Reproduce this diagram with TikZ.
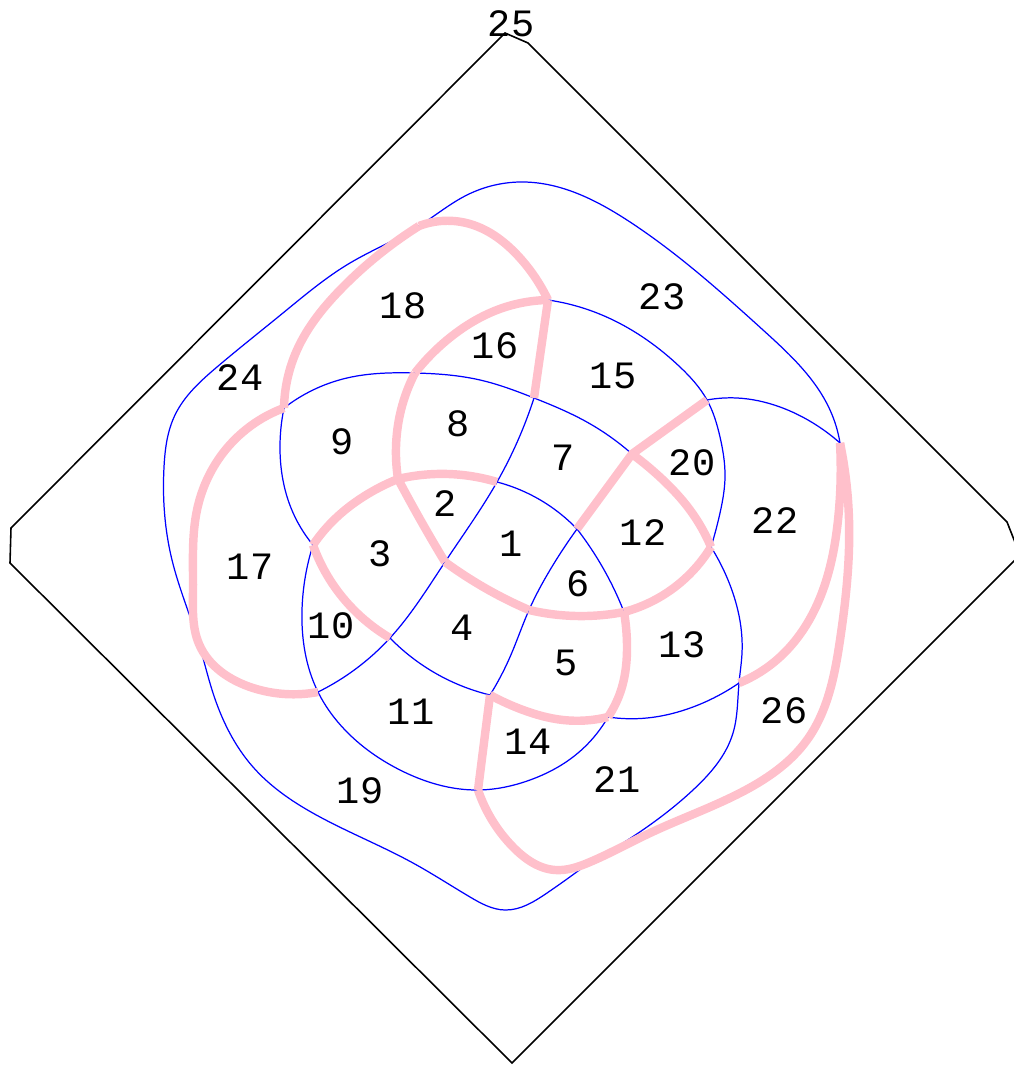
\documentclass[tikz,border=0pt]{standalone}
\usepackage{fontspec}
\setmonofont{Liberation Mono}
\usetikzlibrary{hobby}
\definecolor{rosaclaro}{RGB}{255,192,203}
\begin{document}
\begin{tikzpicture}[
      x=0.01cm, y=-0.01cm, use Hobby shortcut,
      every node/.style={font=\ttfamily\fontsize{11}{12}\selectfont},
      moldura/.style={draw=black, line width=0.45pt},
      curva/.style={draw=blue, line width=0.35pt},
      trilha/.style={draw=rosaclaro, line width=2.4pt}
    ]
    \useasboundingbox (0,0) rectangle (1013,1065);

    % Moldura em losango
    \draw[moldura] (11,528) -- (505,33) -- (528,43) -- (1007,522) -- (1020,555)
      -- (512,1063) -- (10,563) -- cycle;

    % Vértices (cruzamentos das curvas)
    \coordinate (A) at (497,482);
    \coordinate (B) at (577,529);
    \coordinate (C) at (529,610);
    \coordinate (D) at (445,562);
    \coordinate (E) at (398,479);
    \coordinate (F) at (313,545);
    \coordinate (G) at (390,638);
    \coordinate (H) at (490,695);
    \coordinate (I) at (624,612);
    \coordinate (J) at (608,717);
    \coordinate (K) at (711,547);
    \coordinate (L) at (632,454);
    \coordinate (M) at (534,398);
    \coordinate (N) at (415,373);
    \coordinate (O) at (548,300);
    \coordinate (P) at (707,400);
    \coordinate (Q) at (840,443);
    \coordinate (R) at (739,683);
    \coordinate (S) at (478,790);
    \coordinate (T) at (590,862);
    \coordinate (U) at (199,644);
    \coordinate (V) at (318,692);
    \coordinate (W) at (284,408);
    \coordinate (X) at (419,226);

    % Arestas azuis
    \draw[curva] (Q) .. (830,410) .. (763,330) .. (630,222) .. (523,182)
      .. (467,195) .. (X) .. (350,263) .. (283,313) .. (217,367) .. (175,415)
      .. (164,467) .. (172,560) .. (U) .. (213,693) .. (253,767) .. (320,817)
      .. (413,863) .. (470,897) .. (505,910) .. (547,893) .. (T);
    \draw[curva] (O) .. (597,313) .. (647,340) .. (680,367) .. (P) .. (720,437)
      .. (725,477) .. (720,513) .. (K);
    \draw[curva] (P) .. (737,398) .. (780,407) .. (813,423) .. (Q);
    \draw[curva] (K) .. (730,585) .. (742,653) .. (R) .. (733,733) .. (693,790)
      .. (647,827) .. (T);
    \draw[curva] (W) .. (313,390) .. (347,378) .. (N) .. (480,380) .. (M)
      .. (585,421) .. (L);
    \draw[curva] (M) .. (A) .. (D) .. (G) .. (V);
    \draw[curva] (A) .. (535,497) .. (B);
    \draw[curva] (B) .. (603,568) .. (I);
    \draw[curva] (B) .. (550,570) .. (C) .. (510,657) .. (H);
    \draw[curva] (G) .. (430,670) .. (H);
    \draw[curva] (W) .. (280,450) .. (291,508) .. (F);
    \draw[curva] (F) .. (302,610) .. (V) .. (345,730) .. (400,770) .. (S)
      .. (530,780) .. (573,757) .. (J);
    \draw[curva] (J) .. (647,718) .. (693,707) .. (R);

    % Arestas rosa
    \draw[trilha] (X) .. (470,224) .. (520,258) .. (O);
    \draw[trilha] (O) -- (M);
    \draw[trilha] (O) .. (497,310) .. (452,336) .. (N);
    \draw[trilha] (N) .. (401,410) .. (396,447) .. (E);
    \draw[trilha] (E) .. (421,521) .. (D);
    \draw[trilha] (D) .. (485,588) .. (C);
    \draw[trilha] (C) .. (576,616) .. (I);
    \draw[trilha] (I) .. (668,592) .. (K);
    \draw[trilha] (F) .. (337,517) .. (363,497) .. (E);
    \draw[trilha] (E) .. (448,474) .. (A);
    \draw[trilha] (F) .. (330,580) .. (357,613) .. (G);
    \draw[trilha] (X) .. (343,287) .. (297,350) .. (W);
    \draw[trilha] (W) .. (223,453) .. (197,510) .. (193,590) .. (U) .. (253,688)
      .. (V);
    \draw[trilha] (B) -- (L) -- (P);
    \draw[trilha] (L) .. (662,479) .. (690,510) .. (K);
    \draw[trilha] (I) .. (627,647) .. (622,687) .. (J);
    \draw[trilha] (H) .. (523,710) .. (563,720) .. (J);
    \draw[trilha] (H) -- (S);
    \draw[trilha] (Q) .. (838,520) .. (813,613) .. (780,657) .. (R);
    \draw[trilha] (Q) .. (849,520) .. (840,640) .. (807,740) .. (740,793)
      .. (650,833) .. (T) .. (555,870) .. (513,847) .. (S);

    % Rótulos das regiões
    \node (r1) at (511,544) {1};
    \node (r2) at (445,504) {2};
    \node (r3) at (380,554) {3};
    \node (r4) at (462,628) {4};
    \node (r5) at (566,663) {5};
    \node (r6) at (578,584) {6};
    \node (r7) at (563,458) {7};
    \node (r8) at (458,424) {8};
    \node (r9) at (342,442) {9};
    \node (r10) at (331,626) {10};
    \node (r11) at (411,712) {11};
    \node (r12) at (643,533) {12};
    \node (r13) at (682,645) {13};
    \node (r14) at (528,742) {14};
    \node (r15) at (613,376) {15};
    \node (r16) at (495,346) {16};
    \node (r17) at (250,567) {17};
    \node (r18) at (403,306) {18};
    \node (r19) at (360,791) {19};
    \node (r20) at (692,463) {20};
    \node (r21) at (617,780) {21};
    \node (r22) at (775,521) {22};
    \node (r23) at (662,297) {23};
    \node (r24) at (240,378) {24};
    \node (r25) at (511,24) {25};
    \node (r26) at (784,711) {26};
  \end{tikzpicture}
\end{document}
